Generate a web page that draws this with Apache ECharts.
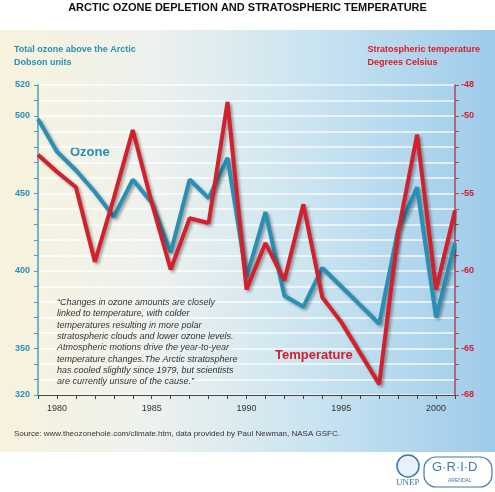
<!DOCTYPE html>
<html><head><meta charset="utf-8">
<script src="https://cdn.jsdelivr.net/npm/echarts@6/dist/echarts.min.js"></script>
<style>html,body{margin:0;padding:0;background:#fff}#c{width:495px;height:492px}</style>
</head><body><div id="c"></div>
<script>
const years = [1979,1980,1981,1982,1983,1984,1985,1986,1987,1988,1989,1990,1991,1992,1993,1994,1995,1996,1997,1998,1999,2000,2001];
const ozone = [498,477,465,451,435,459,444,412,459,447,473,396,438,384,377,402,390,378,366,427,454,370,418];
const temperature = [-52.5,-53.6,-54.6,-59.4,-55.3,-50.9,-55.6,-59.9,-56.6,-56.9,-49.1,-61.2,-58.2,-60.6,-55.7,-61.7,-63.3,-65.3,-67.3,-57.5,-51.2,-61.2,-56.1];
const xTickLabels = [1980,1985,1990,1995,2000];
const ozoneTickLabels = [320,350,400,450,500,520];
const tempTickLabels = [-68,-65,-60,-55,-50,-48];

const title = 'ARCTIC OZONE DEPLETION AND STRATOSPHERIC TEMPERATURE';
const quote = ['\u201CChanges in ozone amounts are closely','linked to temperature, with colder','temperatures resulting in more polar','stratospheric clouds and lower ozone levels.','Atmospheric motions drive the year-to-year','temperature changes.The Arctic stratosphere','has cooled slightly since 1979, but scientists','are currently unsure of the cause.\u201D'];
const source = 'Source: www.theozonehole.com/climate.htm, data provided by Paul Newman, NASA GSFC.';

const teal = '#2a8fb4', red = '#d4202c';
const chart = echarts.init(document.getElementById('c'));
const shadow = {shadowColor:'rgba(0,0,0,0.35)',shadowBlur:3,shadowOffsetX:2,shadowOffsetY:2};
chart.setOption({
  animation:false,
  graphic:[
    {type:'rect',z:-10,shape:{x:0,y:30,width:495,height:422},style:{fill:new echarts.graphic.LinearGradient(0,0,1,0,[{offset:0,color:'#f7f2dc'},{offset:0.3,color:'#eef2ee'},{offset:0.65,color:'#c8e3f1'},{offset:1,color:'#9ecbea'}])}},
    {type:'text',left:'center',top:2,style:{text:title,font:'bold 11px "Liberation Sans Narrow", Arial',fill:'#111'}},
    {type:'text',left:14,top:43,style:{text:'Total ozone above the Arctic\nDobson units',font:'bold 9px "Liberation Sans", Arial',fill:teal,lineHeight:13}},
    {type:'text',right:15,top:43,style:{text:'Stratospheric temperature\nDegrees Celsius',font:'bold 9px "Liberation Sans", Arial',fill:red,lineHeight:13,align:'right'}},
    {type:'text',left:70,top:146,style:{text:'Ozone',font:'bold 13px "Liberation Sans", Arial',fill:teal}},
    {type:'text',left:275,top:349,style:{text:'Temperature',font:'bold 13px "Liberation Sans", Arial',fill:red}},
    {type:'text',left:57,top:297,z:10,style:{text:quote.join('\n'),font:'italic 9px "Liberation Sans", Arial',fill:'#333',lineHeight:11.3}},
    {type:'text',left:14,top:430,style:{text:source,font:'8px "Liberation Sans", Arial',fill:'#333'}},
    {type:'circle',shape:{cx:408,cy:466,r:11},style:{fill:'#e8f1f8',stroke:'#3b78b0',lineWidth:1.5}},
    {type:'text',left:396,top:478,style:{text:'UNEP',font:'9px "Liberation Serif", serif',fill:'#3b78b0'}},
    {type:'rect',shape:{x:424,y:457,width:68,height:30,r:12},style:{fill:'#fff',stroke:'#3b78b0',lineWidth:1.2}},
    {type:'text',left:432,top:461,style:{text:'G\u00B7R\u00B7I\u00B7D',font:'13px "Liberation Sans", Arial',fill:'#3b78b0'}},
    {type:'text',left:448,top:478,style:{text:'ARENDAL',font:'5px "Liberation Sans", Arial',fill:'#3b78b0'}}
  ],
  grid:{left:38,right:40,top:85,bottom:97},
  xAxis:{type:'value',min:1979,max:2001,interval:1,
    axisLine:{lineStyle:{color:'#444'}},axisTick:{length:4,lineStyle:{color:'#444'}},splitLine:{show:false},
    axisLabel:{margin:9,color:'#333',fontSize:9,fontFamily:'Liberation Sans',formatter:v=>xTickLabels.includes(v)?String(v):''}},
  yAxis:[
    {type:'value',min:320,max:520,interval:10,position:'left',
      axisLine:{show:true,lineStyle:{color:'#4aa0be',width:1.5}},axisTick:{show:true,length:4,lineStyle:{color:'#4aa0be'}},
      splitLine:{show:true,lineStyle:{color:'rgba(255,255,255,0.85)',width:1.5}},
      axisLabel:{margin:8,color:teal,fontWeight:'bold',fontSize:9,fontFamily:'Liberation Sans',formatter:v=>ozoneTickLabels.includes(v)?String(v):''}},
    {type:'value',min:-68,max:-48,interval:1,position:'right',
      axisLine:{show:true,lineStyle:{color:'#b04550',width:1.5}},axisTick:{show:true,length:4,lineStyle:{color:'#b04550'}},
      splitLine:{show:false},
      axisLabel:{margin:6,color:red,fontWeight:'bold',fontSize:9,fontFamily:'Liberation Sans',formatter:v=>tempTickLabels.includes(v)?String(v):''}}
  ],
  series:[
    {type:'line',name:'Ozone',yAxisIndex:0,data:years.map((y,i)=>[y,ozone[i]]),symbol:'none',
      lineStyle:Object.assign({color:teal,width:4},shadow)},
    {type:'line',name:'Temperature',yAxisIndex:1,data:years.map((y,i)=>[y,temperature[i]]),symbol:'none',
      lineStyle:Object.assign({color:red,width:4},shadow)}
  ]
});
</script></body></html>
